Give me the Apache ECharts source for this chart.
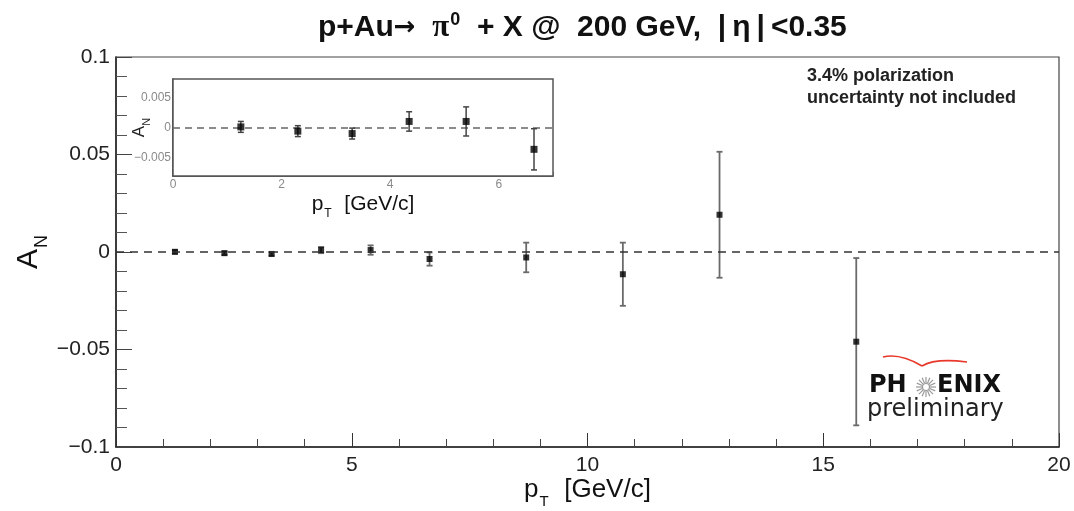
<!DOCTYPE html>
<html>
<head>
<meta charset="utf-8">
<script src="https://cdn.jsdelivr.net/npm/echarts@6/dist/echarts.min.js"></script>
<style>
html,body{margin:0;padding:0;background:#fff;}
#chart{width:1074px;height:511px;}
</style>
</head>
<body>
<div id="chart"></div>
<script>
// ---- data ----
const pT  = [1.25, 2.3, 3.3, 4.35, 5.4, 6.65, 8.7, 10.75, 12.8, 15.7];
const AN  = [0.0001, -0.0006, -0.0010, 0.0010, 0.0010, -0.0036, -0.0028, -0.0114, 0.0191, -0.0460];
const err = [0.0009, 0.0009, 0.0009, 0.0016, 0.0024, 0.0034, 0.0076, 0.0162, 0.0323, 0.0429];
const insetCount = 6; // points shown in the zoomed inset (pT < 7)
const insetYLabels = [-0.005, 0, 0.005];

const noteLines = ['3.4% polarization', 'uncertainty not included'];

const mainPts = pT.map((x, i) => [x, AN[i], err[i]]);
const insetPts = mainPts.slice(0, insetCount);

const FONT = '"Liberation Sans", Arial, Helvetica, sans-serif';
const minusFmt = v => String(+v.toFixed(4)).replace('-', '\u2212');
const insetYFmt = v => insetYLabels.some(t => Math.abs(t - v) < 1e-7) ? minusFmt(v) : '';

function errBars(color, width, cap) {
  return function (params, api) {
    const x = api.value(0), y = api.value(1), e = api.value(2);
    const t = api.coord([x, y + e]);
    const b = api.coord([x, y - e]);
    const st = { stroke: color, lineWidth: width };
    return {
      type: 'group',
      children: [
        { type: 'line', shape: { x1: t[0], y1: t[1], x2: b[0], y2: b[1] }, style: st },
        { type: 'line', shape: { x1: t[0] - cap, y1: t[1], x2: t[0] + cap, y2: t[1] }, style: st },
        { type: 'line', shape: { x1: b[0] - cap, y1: b[1], x2: b[0] + cap, y2: b[1] }, style: st }
      ]
    };
  };
}

const chart = echarts.init(document.getElementById('chart'), null, { renderer: 'canvas' });

// sunburst rays for the logo
const rays = [];
const cx = 926, cy = 387;
for (let k = 0; k < 16; k++) {
  const a = k * Math.PI / 8;
  rays.push({
    type: 'line', silent: true,
    shape: { x1: cx + 4 * Math.cos(a), y1: cy + 4 * Math.sin(a), x2: cx + 10 * Math.cos(a), y2: cy + 10 * Math.sin(a) },
    style: { stroke: '#9a9a9a', lineWidth: 1.2 }
  });
}

const TS = '\u2009';
const titleRich = '{b|p+Au}{ar|\u2192}{b|  }{pi|\u03c0}{sup|0}{b|  + X @  200 GeV,  |' + TS + '\u03b7' + TS + '|' + TS + '<0.35}';

const option = {
  backgroundColor: '#fff',
  animation: false,
  title: {
    text: titleRich,
    left: 313, top: 6,
    textStyle: {
      rich: {
        b: { fontFamily: FONT, fontSize: 30, fontWeight: 'bold', color: '#111', verticalAlign: 'bottom' },
        ar: { fontFamily: '"DejaVu Sans", sans-serif', fontSize: 26, color: '#111', verticalAlign: 'bottom', padding: [0, 0, 2, 0] },
        pi: { fontFamily: '"Liberation Serif", serif', fontSize: 31, color: '#111', verticalAlign: 'bottom' },
        sup: { fontFamily: FONT, fontSize: 18, fontWeight: 'bold', color: '#111', verticalAlign: 'bottom', padding: [0, 0, 14, 1] }
      }
    }
  },
  grid: [
    { left: 116, top: 57, width: 943, height: 390, show: true, borderColor: '#444', borderWidth: 1.2, backgroundColor: '#fff', outerBoundsMode: 'none' },
    { left: 173, top: 79, width: 380, height: 97, show: true, borderColor: '#555', borderWidth: 1.5, backgroundColor: '#fff', z: 5, outerBoundsMode: 'none' }
  ],
  xAxis: [
    {
      gridIndex: 0, type: 'value', min: 0, max: 20, interval: 5,
      name: '{p|p}{s|T}{p|  [GeV/c]}', nameLocation: 'middle', nameGap: 30, nameMoveOverlap: false,
      nameTextStyle: {
        rich: {
          p: { fontFamily: FONT, fontSize: 26, color: '#111', verticalAlign: 'bottom', padding: [0, 0, 6, 0] },
          s: { fontFamily: FONT, fontSize: 15, color: '#111', verticalAlign: 'bottom', padding: [0, 1, 0, 1] }
        }
      },
      axisLine: { show: true, onZero: false, lineStyle: { color: '#222', width: 1.5 } },
      axisTick: { show: true, inside: true, length: 14, lineStyle: { color: '#333', width: 1 } },
      minorTick: { show: true, splitNumber: 5, length: 8, lineStyle: { color: '#444', width: 1 } },
      axisLabel: { fontFamily: FONT, fontSize: 21, color: '#222', margin: 8 },
      splitLine: { show: false }, minorSplitLine: { show: false }
    },
    {
      gridIndex: 1, type: 'value', min: 0, max: 7, interval: 2,
      name: '{p|p}{s|T}{p|  [GeV/c]}', nameLocation: 'middle', nameGap: 18, nameMoveOverlap: false,
      nameTextStyle: {
        rich: {
          p: { fontFamily: FONT, fontSize: 21, color: '#111', verticalAlign: 'bottom', padding: [0, 0, 5, 0] },
          s: { fontFamily: FONT, fontSize: 12, color: '#111', verticalAlign: 'bottom', padding: [0, 1, 0, 1] }
        }
      },
      axisLine: { show: true, onZero: false, lineStyle: { color: '#222', width: 1.5 } },
      axisTick: { show: true, inside: true, length: 4, lineStyle: { color: '#888' } },
      minorTick: { show: true, splitNumber: 2, length: 3, lineStyle: { color: '#888' } },
      axisLabel: { fontFamily: FONT, fontSize: 12, color: '#8a8a8a', margin: 3, showMaxLabel: false },
      splitLine: { show: false }, minorSplitLine: { show: false }
    }
  ],
  yAxis: [
    {
      gridIndex: 0, type: 'value', min: -0.1, max: 0.1, interval: 0.05,
      name: '{a|A}{s|N}', nameLocation: 'middle', nameGap: 65, nameRotate: 90, nameMoveOverlap: false,
      nameTextStyle: {
        rich: {
          a: { fontFamily: FONT, fontSize: 30, color: '#111', verticalAlign: 'bottom', padding: [0, 0, 7, 0] },
          s: { fontFamily: FONT, fontSize: 18, color: '#111', verticalAlign: 'bottom', padding: [0, 0, 0, 1] }
        }
      },
      axisLine: { show: true, onZero: false, lineStyle: { color: '#222', width: 1.5 } },
      axisTick: { show: true, inside: true, length: 16, lineStyle: { color: '#444', width: 1 } },
      minorTick: { show: true, splitNumber: 5, length: 11, lineStyle: { color: '#555', width: 1 } },
      axisLabel: { fontFamily: FONT, fontSize: 21, color: '#222', margin: 6, formatter: minusFmt },
      splitLine: { show: false }, minorSplitLine: { show: false }
    },
    {
      gridIndex: 1, type: 'value', min: -0.008, max: 0.008, interval: 0.001,
      name: '{a|A}{s|N}', nameLocation: 'middle', nameGap: 21, nameRotate: 90, nameMoveOverlap: false,
      nameTextStyle: {
        rich: {
          a: { fontFamily: FONT, fontSize: 17, color: '#222', verticalAlign: 'bottom', padding: [0, 0, 4, 0] },
          s: { fontFamily: FONT, fontSize: 11, color: '#222', verticalAlign: 'bottom' }
        }
      },
      axisLine: { show: true, onZero: false, lineStyle: { color: '#222', width: 1.5 } },
      axisTick: { show: true, inside: true, length: 4, lineStyle: { color: '#555' } },
      minorTick: { show: true, splitNumber: 2, length: 2, lineStyle: { color: '#777' } },
      axisLabel: { fontFamily: FONT, fontSize: 12, color: '#8a8a8a', margin: 2, formatter: insetYFmt },
      splitLine: { show: false }, minorSplitLine: { show: false }
    }
  ],
  series: [
    {
      type: 'custom', xAxisIndex: 0, yAxisIndex: 0, z: 3,
      renderItem: errBars('#6a6a6a', 1.8, 3), data: mainPts, silent: true
    },
    {
      type: 'scatter', xAxisIndex: 0, yAxisIndex: 0, z: 4,
      symbol: 'rect', symbolSize: 6, itemStyle: { color: '#000' },
      data: mainPts.map(p => [p[0], p[1]]), silent: true,
      markLine: {
        silent: true, symbol: ['none', 'none'], label: { show: false },
        lineStyle: { type: [8, 6], color: '#333', width: 1.5 },
        data: [{ yAxis: 0 }]
      }
    },
    {
      type: 'custom', xAxisIndex: 1, yAxisIndex: 1, z: 6,
      renderItem: errBars('#444', 1.5, 3), data: insetPts, silent: true
    },
    {
      type: 'scatter', xAxisIndex: 1, yAxisIndex: 1, z: 7,
      symbol: 'rect', symbolSize: 7, itemStyle: { color: '#000' },
      data: insetPts.map(p => [p[0], p[1]]), silent: true,
      markLine: {
        silent: true, symbol: ['none', 'none'], label: { show: false },
        lineStyle: { type: [7, 5], color: '#666', width: 1.5 },
        data: [{ yAxis: 0 }]
      }
    }
  ],
  graphic: [
    {
      type: 'text', left: 807, top: 65, silent: true,
      style: { text: noteLines.join('\n'), fontFamily: FONT, fontSize: 18, fontWeight: 'bold', fill: '#222', lineHeight: 22 }
    },
    {
      type: 'group', silent: true, children: [
        { type: 'bezierCurve', shape: { x1: 883, y1: 357, cpx1: 900, cpy1: 353, x2: 922, y2: 366 }, style: { stroke: '#e8382a', lineWidth: 1.6, fill: null } },
        { type: 'bezierCurve', shape: { x1: 922, y1: 366, cpx1: 935, cpy1: 358, x2: 967, y2: 362 }, style: { stroke: '#e8382a', lineWidth: 1.6, fill: null } },
        { type: 'text', x: 869, y: 374, style: { text: 'PH', fontFamily: '"DejaVu Sans", sans-serif', fontWeight: 'bold', fontSize: 24, fill: '#111' } },
        { type: 'circle', shape: { cx: cx, cy: cy, r: 3.5 }, style: { fill: '#fff', stroke: '#9a9a9a', lineWidth: 1.2 } },
        ...rays,
        { type: 'text', x: 937, y: 374, style: { text: 'ENIX', fontFamily: '"DejaVu Sans", sans-serif', fontWeight: 'bold', fontSize: 24, fill: '#111' } },
        { type: 'text', x: 867, y: 398, style: { text: 'preliminary', fontFamily: '"DejaVu Sans", sans-serif', fontSize: 24, fill: '#222' } }
      ]
    }
  ]
};

chart.setOption(option);
</script>
</body>
</html>
